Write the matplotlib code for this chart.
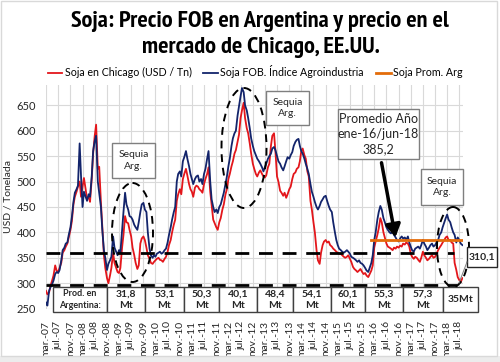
import matplotlib
matplotlib.use("Agg")
import matplotlib.pyplot as plt
from matplotlib import font_manager
from matplotlib.patches import Rectangle, Ellipse, FancyArrowPatch
import pandas as pd

# semi-monthly prices, USD / t, from 2007-03-01 to 2018-08-01
FOB = [
    262, 256, 285, 292, 298, 305, 318, 322, 320, 326, 345, 365, 370, 378, 380, 395, 410, 430, 460, 478,
    485, 492, 575, 510, 450, 480, 470, 462, 475, 470, 510, 560, 580, 590, 500, 478, 450, 405, 365, 350, 326, 338, 345, 352,
    392, 370, 362, 355, 365, 360, 405, 440, 478, 455, 445, 432, 430, 425, 415, 410, 405, 420, 440, 455, 458, 445, 440, 400,
    368, 355, 350, 355, 352, 358, 360, 362, 358, 360, 365, 368, 380, 395, 410, 425, 440, 450, 500, 515, 520, 510, 540, 548,
    560, 545, 530, 515, 505, 495, 505, 510, 512, 500, 505, 495, 515, 525, 545, 560, 500, 465, 450, 440, 445, 438, 450, 455,
    468, 478, 495, 510, 530, 545, 570, 585, 595, 600, 630, 648, 668, 684, 676, 650, 640, 625, 605, 585, 570, 560, 552, 545,
    540, 535, 528, 520, 528, 535, 545, 550, 555, 565, 568, 562, 550, 540, 535, 528, 522, 530, 540, 548, 545, 552, 558, 570,
    578, 582, 584, 570, 560, 555, 545, 535, 525, 515, 495, 480, 470, 460, 450, 445, 452, 460, 465, 470, 472, 462, 452, 445,
    440, 420, 400, 385, 375, 368, 365, 362, 360, 362, 365, 362, 358, 352, 350, 348, 345, 342, 345, 340, 338, 335, 330, 325,
    322, 330, 340, 355, 385, 400, 425, 440, 452, 445, 428, 420, 410, 405, 400, 398, 402, 395, 390, 385, 382, 388, 392, 388,
    390, 385, 392, 380, 372, 365, 362, 368, 370, 372, 368, 375, 385, 378, 372, 365, 370, 375, 378, 372, 375, 380, 385, 395,
    400, 410, 420, 428, 435, 425, 420, 410, 400, 395, 380, 390, 385, 378, 375,
]
CHICAGO = [
    285, 278, 282, 295, 305, 315, 335, 325, 322, 330, 340, 360, 365, 372, 378, 390, 405, 422, 455, 470,
    480, 490, 500, 470, 490, 507, 485, 465, 470, 460, 505, 555, 590, 612, 525, 529, 460, 410, 355, 330, 310, 300, 315, 330,
    360, 340, 330, 322, 320, 330, 370, 395, 432, 420, 418, 405, 392, 370, 355, 340, 328, 335, 378, 388, 392, 385, 370, 355,
    348, 340, 338, 342, 345, 348, 350, 346, 345, 342, 348, 352, 362, 375, 385, 400, 415, 425, 462, 475, 485, 475, 505, 515,
    525, 512, 495, 485, 480, 470, 488, 492, 490, 485, 482, 478, 495, 505, 515, 528, 480, 455, 425, 418, 410, 405, 420, 428,
    445, 455, 475, 485, 505, 515, 530, 540, 555, 562, 578, 592, 625, 640, 655, 625, 605, 595, 575, 555, 535, 525, 515, 510,
    518, 522, 515, 510, 508, 512, 528, 535, 570, 590, 595, 560, 510, 500, 482, 478, 472, 478, 468, 475, 485, 490, 505, 515,
    518, 525, 528, 540, 560, 565, 552, 545, 520, 510, 462, 445, 420, 400, 365, 345, 338, 360, 375, 382, 385, 380, 382, 375,
    372, 368, 365, 362, 360, 358, 358, 355, 352, 350, 352, 355, 348, 342, 332, 328, 325, 322, 325, 328, 322, 318, 320, 315,
    312, 318, 325, 335, 370, 382, 395, 408, 428, 420, 400, 390, 378, 372, 370, 368, 365, 370, 368, 372, 370, 374, 372, 378,
    376, 380, 378, 372, 358, 352, 348, 352, 350, 346, 342, 350, 362, 355, 350, 345, 348, 352, 355, 350, 352, 358, 365, 370,
    375, 380, 385, 390, 392, 385, 385, 380, 378, 340, 326, 312, 306, 302, 310,
]
PROMEDIO = 385.2
NIVELES = [360, 297]
PROD = ["31,8\nMt", "53,1\nMt", "50,3\nMt", "40,1\nMt", "48,4\nMt", "54,1\nMt",
        "60,1\nMt", "55,3\nMt", "57,3\nMt", "35Mt"]
MESES = {3: "mar.", 7: "jul.", 11: "nov."}

RED = "#E3161B"
BLUE = "#13246B"
ORANGE = "#E36C0A"
FONT = "Lato"

# pick a narrow bold face for the title if one is installed
narrow = [f for f in font_manager.fontManager.ttflist
          if f.weight in ("bold", 700) and ("Narrow" in f.name or f.stretch == "condensed"
                                           or "Condensed" in f.fname)]
narrow.sort(key=lambda f: "Narrow" not in f.name)
if narrow:
    title_prop = font_manager.FontProperties(fname=narrow[0].fname, size=13)
else:
    title_prop = font_manager.FontProperties(family="Roboto", weight="bold", size=13)

fechas = pd.date_range("2007-03-01", periods=len(FOB), freq="SMS")
ticks = pd.date_range("2007-03-01", "2018-07-01", freq="4MS")

plt.rcParams["font.family"] = [FONT, "DejaVu Sans"]
fig = plt.figure(figsize=(5, 3.62), dpi=100)
ax = fig.add_axes([0.092, 0.1475, 0.834, 0.6177])

ax.plot(fechas, CHICAGO, color=RED, lw=1.3, label="Soja en Chicago (USD / Tn)", zorder=3)
ax.plot(fechas, FOB, color=BLUE, lw=1.3, label="Soja FOB. Índice Agroindustria", zorder=4)
ax.plot([pd.Timestamp("2016-01-25"), fechas[-1]], [PROMEDIO, PROMEDIO], color=ORANGE,
        lw=2, label="Soja Prom. Arg", zorder=5)
ax.plot([fechas[0], pd.Timestamp("2018-05-09")], [NIVELES[0]] * 2, color="black",
        lw=2, dashes=(5, 3.5), zorder=6)
ax.plot([fechas[0], pd.Timestamp("2018-06-08")], [NIVELES[1]] * 2, color="black",
        lw=2, dashes=(5, 3.5), zorder=6)

ax.set_xlim(pd.Timestamp("2007-03-01"), pd.Timestamp("2018-08-07"))
ax.set_ylim(250, 690)
ax.set_yticks(range(250, 651, 50))
ax.set_xticks(ticks)
ax.set_xticklabels([f"{MESES[d.month]}-{d:%y}" for d in ticks], rotation=90, fontsize=7.5)
ax.tick_params(axis="x", length=0, pad=9, colors="#262626")
ax.tick_params(axis="y", length=0, pad=7, labelsize=8, colors="#262626")
ax.grid(True, color="#d9d9d9", lw=0.8)
ax.set_axisbelow(True)
for s in ax.spines.values():
    s.set_visible(False)
ax.set_ylabel("USD / Tonelada", fontsize=7.5, color="#262626", labelpad=3)

fig.legend(loc="center", bbox_to_anchor=(0.51, 1 - 72 / 362), ncol=3, frameon=False,
           fontsize=7.7, handlelength=1.4, handletextpad=0.2, columnspacing=1.1)

# overlay in pixel coordinates for annotations
ov = fig.add_axes([0, 0, 1, 1], zorder=10)
ov.set_xlim(0, 500)
ov.set_ylim(362, 0)
ov.axis("off")
ov.patch.set_alpha(0)

ov.add_patch(Rectangle((0, 356), 500, 6, fc="#ececec", ec="none"))
ov.add_patch(Rectangle((1, 1), 496, 355, fill=False, ec="#d9d9d9", lw=1))
t1 = ov.text(260, 21, "Soja: Precio FOB en Argentina y precio en el", ha="center", va="center",
             fontproperties=title_prop, color="black")
t2 = ov.text(261, 48, "mercado de Chicago, EE.UU.", ha="center", va="center",
             fontproperties=title_prop, color="black")
# size the title so its first line is about 380 px wide, as in the source
fig.canvas.draw()
escala = 380 / t1.get_window_extent().width
for t in (t1, t2):
    t.set_fontsize(13 * escala)

def caja(x0, y0, x1, y1, txt, size=7.5, bold=False, ec="#7f7f7f"):
    ov.add_patch(Rectangle((x0, y0), x1 - x0, y1 - y0, fc="white", ec=ec, lw=1))
    ov.text((x0 + x1) / 2, (y0 + y1) / 2, txt, ha="center", va="center", fontsize=size,
            fontweight="bold" if bold else "normal", color="#262626", linespacing=1.3)

# production table
bordes = [106.7, 145, 184, 219, 257, 293, 331, 365, 403, 443, 478]
caja(52.7, 287, 106.7, 312, "Prod. en\nArgentina:", size=6.5, bold=True, ec="#404040")
for i, t in enumerate(PROD):
    caja(bordes[i], 287, bordes[i + 1], 312, t, size=7.5, bold=True, ec="#404040")

# drought notes
for (x0, y0, x1, y1) in [(112, 143, 155, 178), (266, 91, 309, 125), (421, 169, 463, 205)]:
    caja(x0, y0, x1, y1, "Sequia\nArg.", size=7.5)
for (cx, cy, w, h) in [(132.5, 232.5, 41, 99), (244, 148, 45, 120), (453, 247, 32, 80)]:
    ov.add_patch(Ellipse((cx, cy), w, h, fill=False, ec="black", lw=1.4, ls=(0, (4, 3))))

caja(338, 109, 419, 159, "Promedio Año\nene-16/jun-18\n385,2", size=9)
ov.add_patch(FancyArrowPatch((381, 160), (396, 240), arrowstyle="-|>,head_length=5,head_width=3",
                             color="black", lw=2.5, mutation_scale=1.5))

ov.plot([467, 459], [262, 283], color="#7f7f7f", lw=0.7)
caja(467, 247, 497, 267, "310,1", size=7.5, bold=True, ec="#262626")

fig.savefig("out.png", dpi=100)
